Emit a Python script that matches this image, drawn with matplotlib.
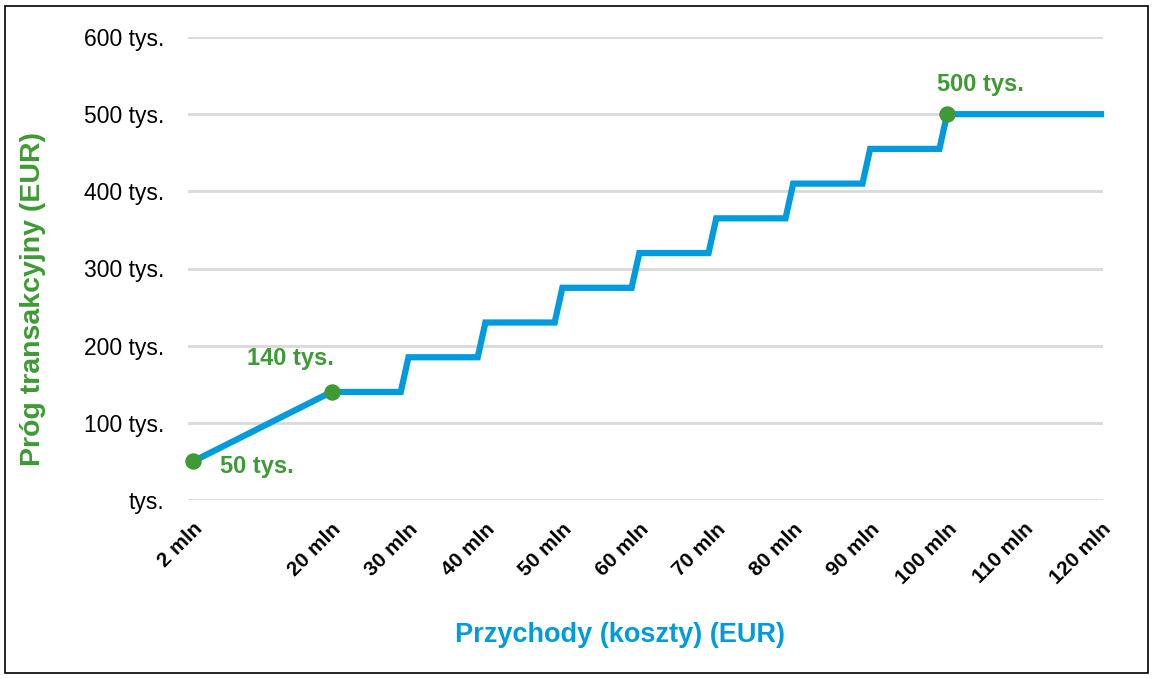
import matplotlib
matplotlib.use("Agg")
import matplotlib.pyplot as plt
import matplotlib.transforms as mtransforms
from matplotlib.patches import Rectangle

plt.rcParams['font.family'] = ['Liberation Sans', 'DejaVu Sans']

# data (mln EUR -> tys. EUR)
revenue = [2, 20, 29, 30, 39, 40, 49, 50, 59, 60, 69, 70, 79, 80, 89, 90, 99, 100, 120]
threshold = [50, 140, 140, 185, 185, 230, 230, 275, 275, 320, 320, 365, 365, 410, 410, 455, 455, 500, 500]
key_x = [2, 20, 100]
key_y = [50, 140, 500]
key_labels = ["50 tys.", "140 tys.", "500 tys."]
x_ticks = [2, 20, 30, 40, 50, 60, 70, 80, 90, 100, 110, 120]
x_tick_labels = [f"{v} mln" for v in x_ticks]
y_ticks = [0, 100, 200, 300, 400, 500, 600]
y_tick_labels = [f"{v} tys." if v else "tys." for v in y_ticks]

W, H = 1157, 679
fig = plt.figure(figsize=(W / 100, H / 100), dpi=100)
ax = fig.add_axes([188 / W, (H - 500) / H, 915 / W, 463 / H])

blue = "#009BDE"
green = "#3E9A35"

ax.plot(revenue, threshold, color=blue, lw=4.5, solid_joinstyle='miter', zorder=3, clip_on=False)
ax.scatter(key_x, key_y, s=140, color=green, zorder=4, clip_on=False, linewidths=0)

ax.set_xlim(2 - 5 / 7.695, 120 + 2 / 7.695)
ax.set_ylim(0, 600)
ax.set_xticks(x_ticks)
ax.set_xticklabels(x_tick_labels, rotation=45, ha='right', va='top', rotation_mode='anchor',
                   fontsize=15, fontweight='bold')
offset = mtransforms.ScaledTranslation(-5 / 100, 0, fig.dpi_scale_trans)
for lbl in ax.get_xticklabels():
    lbl.set_transform(lbl.get_transform() + offset)
ax.set_yticks(y_ticks)
ax.set_yticklabels(y_tick_labels, fontsize=16.5)
ax.tick_params(axis='both', length=0)
ax.tick_params(axis='y', pad=17)
ax.tick_params(axis='x', pad=14)
for s in ax.spines.values():
    s.set_visible(False)
ax.yaxis.grid(True, color="#D9D9D9", lw=2)
ax.set_axisbelow(True)

ann_pos = [(5.5, 44, 'left'), (14.6, 184, 'center'), (104.3, 539, 'center')]
for (tx, ty, ha), lab in zip(ann_pos, key_labels):
    ax.text(tx, ty, lab, color=green, fontsize=17, fontweight='bold', ha=ha, va='center')

fig.text(620 / W, 1 - 635 / H, "Przychody (koszty) (EUR)", color=blue, fontsize=19.5,
         fontweight='bold', ha='center', va='center')
fig.text(33 / W, 1 - 299 / H, "Próg transakcyjny (EUR)", color=green, fontsize=20.5,
         fontweight='bold', ha='center', va='center', rotation=90)

fig.patches.append(Rectangle((5 / W, (H - 673) / H), 1143 / W, 667 / H, transform=fig.transFigure,
                             fill=False, edgecolor='black', lw=1.2))

fig.savefig("out.png", dpi=100)
